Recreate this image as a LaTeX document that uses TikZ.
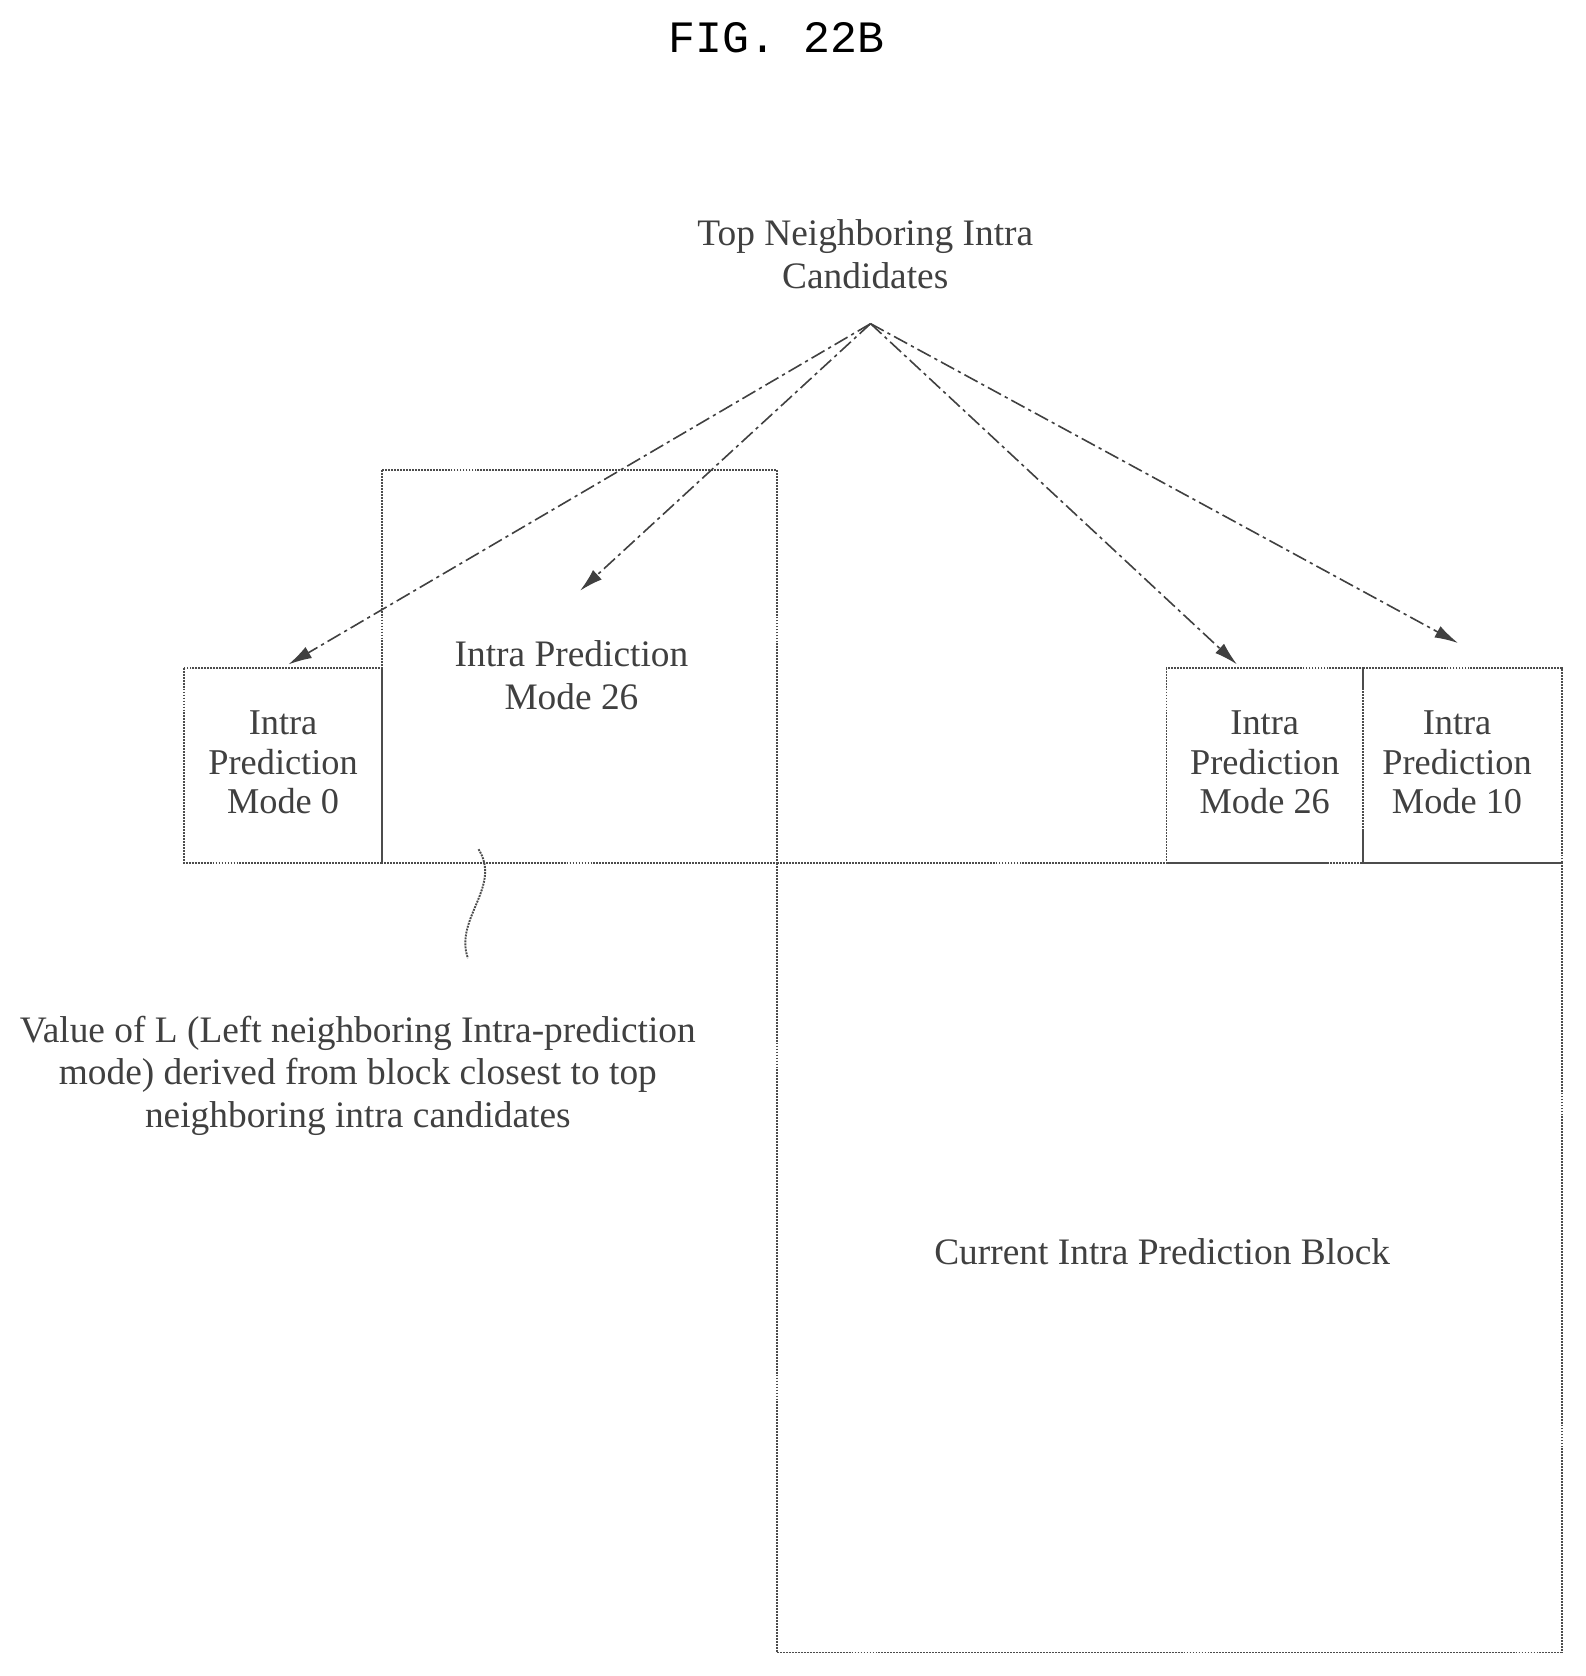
\documentclass[tikz,border=0pt]{standalone}
\usepackage{fontspec}
\setmainfont{Liberation Serif}
\setmonofont{Liberation Mono}
\usetikzlibrary{decorations.pathmorphing,arrows.meta}
\begin{document}
\begin{tikzpicture}[x=1pt,y=-1pt,
  box/.style={draw=black!70,densely dotted,line width=1.8pt},
  lbl/.style={font=\fontsize{35}{40}\selectfont,text=black!75,align=center,inner sep=0},
  sm/.style={lbl,font=\fontsize{34}{37}\selectfont},
  arr/.style={draw=black!75,dash pattern=on 14pt off 4pt on 3pt off 4pt,line width=1.5pt,-{Latex[length=22pt,width=12pt]}}]
\useasboundingbox (0,0) rectangle (1484,1569);
\node[font=\ttfamily\fontsize{42}{46}\selectfont] (title) at (727,35) {FIG. 22B};
\node[lbl] (top) at (810,238) {Top Neighboring Intra\\Candidates};
\coordinate (apex) at (815,303);
\draw[box] (358,440) rectangle (727,808);
\draw[box] (172,625) rectangle (358,808);
\draw[box] (1092,625) rectangle (1276,808);
\draw[box] (1276,625) rectangle (1462,808);
\draw[box] (727,808) rectangle (1462,1547);
\node[lbl] (m26a) at (535,632) {Intra Prediction\\Mode 26};
\node[sm] (m0) at (265,714) {Intra\\Prediction\\Mode 0};
\node[sm] (m26b) at (1184,714) {Intra\\Prediction\\Mode 26};
\node[sm] (m10) at (1364,714) {Intra\\Prediction\\Mode 10};
\node[lbl] (cur) at (1088,1172) {Current Intra Prediction Block};
\node[lbl] (val) at (335,1007) {Value of L (Left neighboring Intra-prediction\\mode) derived from block closest to top\\neighboring intra candidates};
\coordinate (a1) at (270,622);
\coordinate (a2) at (543,553);
\coordinate (a3) at (1158,622);
\coordinate (a4) at (1365,602);
\draw[arr] (apex) -- (a1);
\draw[arr] (apex) -- (a2);
\draw[arr] (apex) -- (a3);
\draw[arr] (apex) -- (a4);
\coordinate (s1) at (448,795);
\coordinate (s2) at (438,897);
\draw[draw=black!70,densely dotted,line width=1.8pt] (s1) .. controls (470,830) and (425,860) .. (s2);
\end{tikzpicture}
\end{document}
